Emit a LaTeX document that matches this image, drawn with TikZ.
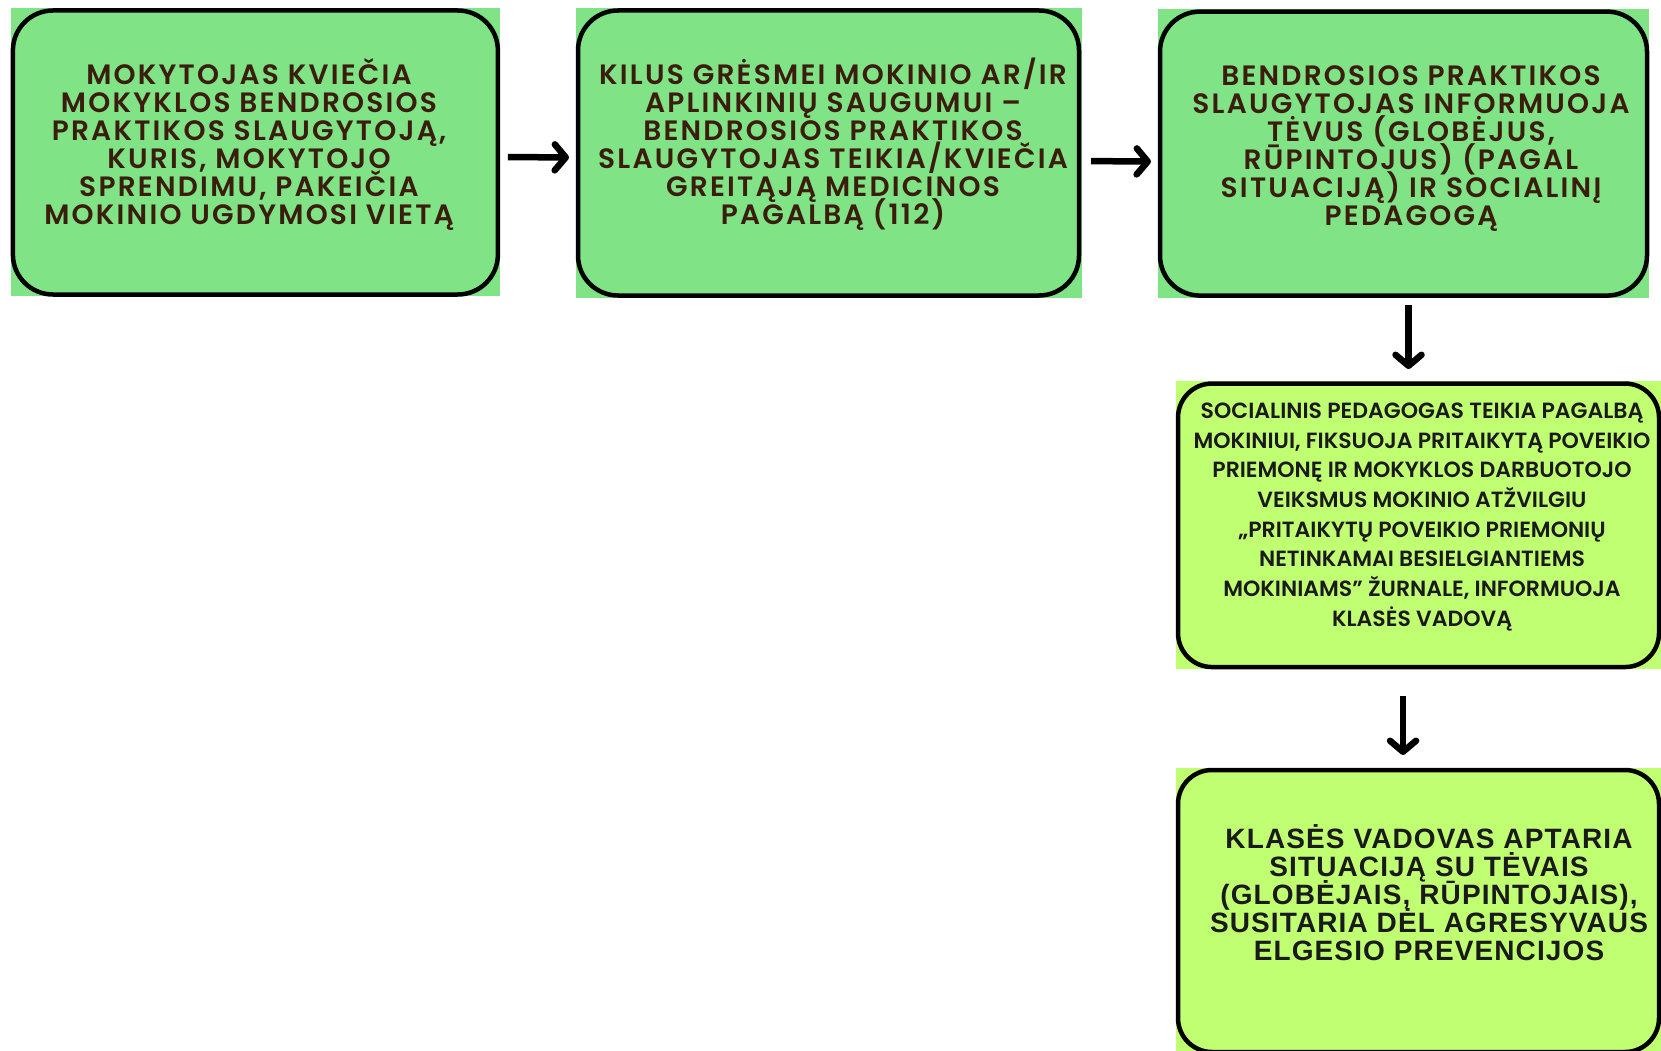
\documentclass[tikz,border=0pt]{standalone}
\usepackage{fontspec}
\setmainfont{Poppins}
\IfFontExistsTF{Poppins SemiBold}{%
  \newfontfamily\fA{Poppins SemiBold}[LetterSpace=8]%
  \newfontfamily\fB{Poppins SemiBold}%
}{%
  \newfontfamily\fA{Poppins}[LetterSpace=8,FakeBold=1.5]%
  \newfontfamily\fB{Poppins}[FakeBold=1.5]%
}
\newfontfamily\fC{Liberation Sans}[LetterSpace=4,UprightFont=* Bold]
\newcommand\mytight{\lineskiplimit=-100pt\relax\lineskip=0pt\relax}
\usetikzlibrary{arrows.meta}
\definecolor{gA}{HTML}{80E385}
\definecolor{gB}{HTML}{C1FF72}
\definecolor{txA}{HTML}{3B1D0D}
\definecolor{txB}{HTML}{1A1A1A}
\tikzset{
  box/.style={draw=black, line width=4.5pt, inner sep=0pt, outer sep=0pt, rectangle},
  boxA/.style={box, fill=gA, rounded corners=40pt},
  boxB/.style={box, fill=gB, rounded corners=34pt},
  txtA/.style={align=center, inner sep=0pt, text=txA, font={\fA\fontsize{28}{28}\selectfont\mytight}},
  txtB/.style={align=center, inner sep=0pt, text=txB, font={\fB\fontsize{22}{29.7}\selectfont\mytight}},
  txtC/.style={align=center, inner sep=0pt, text=txB, font={\fC\fontsize{28}{28}\selectfont\mytight}},
  conn/.style={line width=6.5pt, -{Straight Barb[length=11pt,width=26pt,round]}}
}
\begin{document}
\begin{tikzpicture}[x=1pt,y=-1pt]
\useasboundingbox (0,0) rectangle (1661,1051);
\clip (0,0) rectangle (1661,1051);
% background squares
\fill[gA] (10.6,8.5) rectangle (500,296);
\fill[gA] (576,8.5) rectangle (1081.5,297.7);
\fill[gA] (1158,9.5) rectangle (1649,297.7);
\fill[gB] (1176,381) rectangle (1665,669);
\fill[gB] (1176,768) rectangle (1665,1060);
% boxes
\node[boxA, minimum width=485pt, minimum height=284pt] (b1) at (255.4,152.5) {};
\node[boxA, minimum width=501pt, minimum height=285pt] (b2) at (828.5,153) {};
\node[boxA, minimum width=487pt, minimum height=284pt] (b3) at (1403.5,153.6) {};
\node[boxB, minimum width=481pt, minimum height=283.5pt] (b4) at (1418.5,525.3) {};
\node[boxB, minimum width=481pt, minimum height=282pt] (b5) at (1418.5,911) {};
% texts
\node[txtA] (t1) at (249,145) {MOKYTOJAS KVIEČIA\\MOKYKLOS BENDROSIOS\\PRAKTIKOS SLAUGYTOJĄ,\\KURIS, MOKYTOJO\\SPRENDIMU, PAKEIČIA\\MOKINIO UGDYMOSI VIETĄ};
\node[txtA] (t2) at (833,144) {KILUS GRĖSMEI MOKINIO AR/IR\\APLINKINIŲ SAUGUMUI –\\BENDROSIOS PRAKTIKOS\\SLAUGYTOJAS TEIKIA/KVIEČIA\\GREITĄJĄ MEDICINOS\\PAGALBĄ (112)};
\node[txtA] (t3) at (1411,149) {BENDROSIOS PRAKTIKOS\\SLAUGYTOJAS INFORMUOJA\\TĖVUS (GLOBĖJUS,\\RŪPINTOJUS) (PAGAL\\SITUACIJĄ) IR SOCIALINĮ\\PEDAGOGĄ};
\node[txtB] (t4) at (1422,517) {SOCIALINIS PEDAGOGAS TEIKIA PAGALBĄ\\MOKINIUI, FIKSUOJA PRITAIKYTĄ POVEIKIO\\PRIEMONĘ IR MOKYKLOS DARBUOTOJO\\VEIKSMUS MOKINIO ATŽVILGIU\\„PRITAIKYTŲ POVEIKIO PRIEMONIŲ\\NETINKAMAI BESIELGIANTIEMS\\MOKINIAMS” ŽURNALE, INFORMUOJA\\KLASĖS VADOVĄ};
\node[txtC] (t5) at (1429,893) {KLASĖS VADOVAS APTARIA\\SITUACIJĄ SU TĖVAIS\\(GLOBĖJAIS, RŪPINTOJAIS),\\SUSITARIA DĖL AGRESYVAUS\\ELGESIO PREVENCIJOS};
% connectors
\draw[conn, shorten <=10pt, shorten >=9pt] ([yshift=-4.5pt]b1.east) -- ([yshift=-4.5pt]b2.west);
\draw[conn, shorten <=12pt, shorten >=9pt] ([yshift=-8pt]b2.east) -- ([yshift=-8pt]b3.west);
\draw[conn, shorten <=9pt, shorten >=14.5pt] ([xshift=5pt]b3.south) -- ([xshift=5pt]b3.south |- b4.north);
\draw[conn, shorten <=29pt, shorten >=15pt] ([xshift=-15.5pt]b4.south) -- ([xshift=-15.5pt]b5.north);
\end{tikzpicture}
\end{document}
